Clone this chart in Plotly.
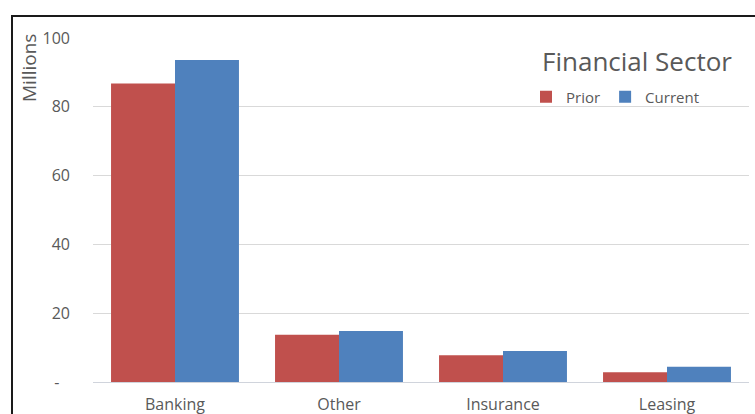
import plotly.graph_objects as go

# Financial sector volumes, in millions
categories = ["Banking", "Other", "Insurance", "Leasing"]
prior = [86.8, 13.7, 7.8, 2.8]
current = [93.6, 14.8, 9.0, 4.4]

tick_vals = [0, 20, 40, 60, 80, 100]
tick_text = ["-\u2002\u2009", "20", "40", "60", "80", "100"]

RED = "#C0504D"
BLUE = "#4F81BD"
GREY = "#595959"
FONT = "Open Sans"

W, H = 755, 414
ML, MR, MT, MB = 93, 6, 38, 32
PW, PH = W - ML - MR, H - MT - MB


def px_x(x):
    return (x - ML) / PW


def px_y(y):
    return (H - MB - y) / PH


fig = go.Figure()
fig.add_trace(go.Bar(name="Prior", x=categories, y=prior, marker_color=RED,
                     marker_line_width=0))
fig.add_trace(go.Bar(name="Current", x=categories, y=current, marker_color=BLUE,
                     marker_line_width=0))

fig.update_layout(
    width=W, height=H, autosize=False,
    margin=dict(l=ML, r=MR, t=MT, b=MB, pad=0, autoexpand=False),
    paper_bgcolor="white", plot_bgcolor="white",
    barmode="group", bargap=0.22, bargroupgap=0,
    font=dict(family=FONT, color=GREY, size=16),
    showlegend=True,
    legend=dict(orientation="h", x=px_x(615), xanchor="center", y=px_y(97),
                yanchor="middle", font=dict(size=15, color=GREY),
                bgcolor="rgba(0,0,0,0)", borderwidth=0,
                itemwidth=30, tracegroupgap=0),
    xaxis=dict(showgrid=False, showline=False, ticks="", zeroline=False,
               automargin=False, ticklabelstandoff=11,
               tickfont=dict(size=16, color=GREY)),
    yaxis=dict(range=[0, 100], tickvals=tick_vals, ticktext=tick_text,
               showgrid=True, gridcolor="#D9D9D9", gridwidth=1,
               zeroline=True, zerolinecolor="#D0D4DC", zerolinewidth=1,
               showline=False, ticks="", automargin=False, ticklabelstandoff=22,
               tickfont=dict(size=16, color=GREY)),
)

# Chart title, top right
fig.add_annotation(text="Financial Sector", xref="paper", yref="paper",
                   x=px_x(734), y=px_y(61), xanchor="right", yanchor="middle",
                   showarrow=False, font=dict(size=26, color=GREY, family=FONT))

# Vertical unit label
fig.add_annotation(text="Millions", xref="paper", yref="paper",
                   x=px_x(29), y=px_y(68), xanchor="center", yanchor="middle",
                   textangle=-90, showarrow=False,
                   font=dict(size=19, color=GREY, family=FONT))

# Frame lines along the top and left edges
fig.add_shape(type="line", xref="paper", yref="paper",
              x0=px_x(11), x1=px_x(W), y0=px_y(16), y1=px_y(16),
              line=dict(color="#1a1a1a", width=2))
fig.add_shape(type="line", xref="paper", yref="paper",
              x0=px_x(12), x1=px_x(12), y0=px_y(16), y1=px_y(H),
              line=dict(color="#1a1a1a", width=2))

fig.write_html("out.html", config={"displayModeBar": False})
